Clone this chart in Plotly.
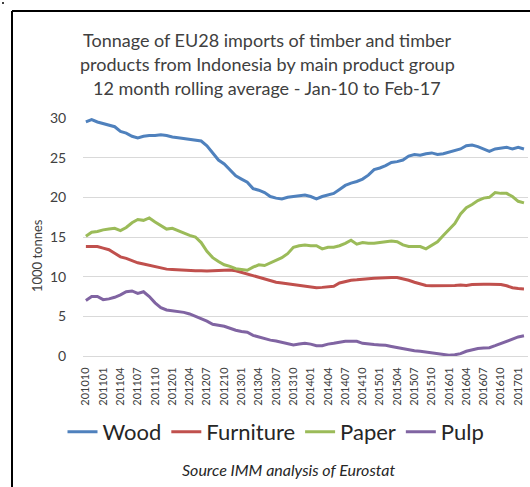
import plotly.graph_objects as go

# monthly categories, Oct 2010 .. Feb 2017
months = (
    ["201010", "201011", "201012"]
    + ["2011%02d" % m for m in range(1, 13)]
    + ["2012%02d" % m for m in range(1, 13)]
    + ["2013%02d" % m for m in range(1, 13)]
    + ["2014%02d" % m for m in range(1, 13)]
    + ["2015%02d" % m for m in range(1, 13)]
    + ["2016%02d" % m for m in range(1, 13)]
    + ["201701", "201702"]
)

tick_labels = [
    "201010", "201101", "201104", "201107", "201110", "201201", "201204",
    "201207", "201210", "201301", "201304", "201307", "201310", "201401",
    "201404", "201407", "201410", "201501", "201504", "201507", "201510",
    "201601", "201604", "201607", "201610", "201701",
]

wood = [
    29.5, 29.8, 29.5, 29.3, 29.1, 28.9, 28.3, 28.1, 27.7, 27.5, 27.7, 27.8,
    27.8, 27.9, 27.8, 27.6, 27.5, 27.4, 27.3, 27.2, 27.1, 26.5, 25.6, 24.7,
    24.2, 23.4, 22.7, 22.3, 21.9, 21.1, 20.9, 20.6, 20.1, 19.9, 19.8, 20.0,
    20.1, 20.2, 20.3, 20.1, 19.8, 20.1, 20.3, 20.5, 21.0, 21.5, 21.8, 22.0,
    22.3, 22.8, 23.5, 23.7, 24.0, 24.4, 24.5, 24.7, 25.2, 25.4, 25.3, 25.5,
    25.6, 25.4, 25.5, 25.7, 25.9, 26.1, 26.5, 26.6, 26.4, 26.1, 25.8, 26.1,
    26.2, 26.3, 26.1, 26.3, 26.1,
]

furniture = [
    13.8, 13.8, 13.8, 13.6, 13.4, 12.95, 12.5, 12.3, 12.0, 11.75, 11.6, 11.45,
    11.3, 11.1, 10.95, 10.9, 10.85, 10.8, 10.75, 10.75, 10.75, 10.7, 10.75, 10.8,
    10.85, 10.85, 10.75, 10.55, 10.3, 10.1, 9.9, 9.7, 9.5, 9.3, 9.2, 9.1,
    9.0, 8.95, 8.85, 8.7, 8.6, 8.65, 8.7, 8.8, 9.2, 9.4, 9.55, 9.6,
    9.7, 9.75, 9.8, 9.85, 9.9, 9.9, 9.9, 9.75, 9.55, 9.3, 9.1, 8.9,
    8.85, 8.85, 8.85, 8.85, 8.9, 8.95, 8.9, 9.0, 9.05, 9.05, 9.05, 9.05,
    9.0, 8.85, 8.6, 8.5, 8.45,
]

paper = [
    15.1, 15.6, 15.7, 15.9, 16.0, 16.1, 15.8, 16.2, 16.8, 17.2, 17.1, 17.4,
    16.9, 16.4, 16.0, 16.1, 15.8, 15.4, 15.2, 15.0, 14.3, 13.2, 12.4, 11.9,
    11.5, 11.3, 11.0, 10.9, 10.8, 11.2, 11.5, 11.4, 11.7, 12.1, 12.4, 12.9,
    13.7, 13.9, 14.0, 13.9, 13.9, 13.5, 13.7, 13.7, 13.9, 14.2, 14.6, 14.1,
    14.3, 14.2, 14.2, 14.3, 14.4, 14.5, 14.4, 14.0, 13.8, 13.8, 13.8, 13.5,
    14.0, 14.4, 15.2, 16.0, 16.7, 17.9, 18.7, 19.1, 19.6, 19.9, 20.0, 20.6,
    20.5, 20.5, 20.1, 19.5, 19.3,
]

pulp = [
    7.0, 7.5, 7.5, 7.1, 7.2, 7.4, 7.7, 8.1, 8.2, 7.9, 8.1, 7.5,
    6.7, 6.1, 5.8, 5.7, 5.6, 5.5, 5.3, 5.0, 4.8, 4.4, 4.0, 3.9,
    3.75, 3.5, 3.25, 3.1, 3.0, 2.6, 2.4, 2.2, 2.0, 1.9, 1.75, 1.6,
    1.4, 1.5, 1.6, 1.5, 1.3, 1.3, 1.5, 1.6, 1.7, 1.85, 1.85, 1.85,
    1.6, 1.5, 1.45, 1.4, 1.35, 1.2, 1.05, 0.9, 0.8, 0.65, 0.6, 0.5,
    0.4, 0.3, 0.2, 0.1, 0.15, 0.3, 0.6, 0.8, 0.95, 1.0, 1.05, 1.3,
    1.6, 1.9, 2.2, 2.4, 2.55,
]

series = [
    ("Wood", wood, "#4F81BD"),
    ("Furniture", furniture, "#C0504D"),
    ("Paper", paper, "#9BBB59"),
    ("Pulp", pulp, "#8064A2"),
]

W, H = 530, 487
ML, MR, MT, MB = 83, 2, 118, 131
PW, PH = W - ML - MR, H - MT - MB


def px(x):
    return (x - ML) / PW


def py(y):
    return (H - MB - y) / PH


FONT = "Lato, 'Open Sans', sans-serif"

fig = go.Figure()
for name, vals, color in series:
    fig.add_trace(
        go.Scatter(
            x=months,
            y=vals,
            mode="lines",
            name=name,
            line=dict(color=color, width=3),
        )
    )

fig.update_layout(
    width=W,
    height=H,
    margin=dict(l=ML, r=MR, t=MT, b=MB),
    paper_bgcolor="white",
    plot_bgcolor="white",
    font=dict(family=FONT, color="#404040"),
    xaxis=dict(
        type="category",
        range=[-0.5, len(months) - 0.3],
        tickmode="array",
        tickvals=tick_labels,
        ticktext=tick_labels,
        tickangle=-90,
        tickfont=dict(size=11, color="#404040", family=FONT),
        showgrid=False,
        showline=False,
        zeroline=False,
        ticks="outside",
        ticklen=6,
        tickcolor="rgba(0,0,0,0)",
    ),
    yaxis=dict(
        range=[0, 30],
        dtick=5,
        tickfont=dict(size=14, color="#404040", family=FONT),
        gridcolor="#D9D9D9",
        gridwidth=1,
        zeroline=True,
        zerolinecolor="#D9D9D9",
        zerolinewidth=1,
        showline=False,
        ticks="outside",
        ticklen=13,
        tickcolor="rgba(0,0,0,0)",
    ),
    legend=dict(
        orientation="h",
        x=px(276),
        xanchor="center",
        y=py(432),
        yanchor="middle",
        font=dict(size=22, color="#262626", family=FONT),
        itemwidth=30,
        bgcolor="rgba(0,0,0,0)",
    ),
    showlegend=True,
)

# chart title, one annotation per line to control spacing
for line, ypos in [
    ("Tonnage of EU28 imports of timber and timber", 40),
    ("products from Indonesia by main product group", 64),
    ("12 month rolling average - Jan-10 to Feb-17", 88),
]:
    fig.add_annotation(
        text=line,
        xref="paper",
        yref="paper",
        x=px(267),
        y=py(ypos),
        xanchor="center",
        yanchor="middle",
        showarrow=False,
        font=dict(size=18, color="#404040", family=FONT),
    )

fig.add_annotation(
    text="1000 tonnes",
    xref="paper",
    yref="paper",
    x=px(37),
    y=py(256),
    xanchor="center",
    yanchor="middle",
    textangle=-90,
    showarrow=False,
    font=dict(size=13, color="#404040", family=FONT),
)

fig.add_annotation(
    text="<i>Source IMM analysis of Eurostat</i>",
    xref="paper",
    yref="paper",
    x=px(288),
    y=py(469),
    xanchor="center",
    yanchor="middle",
    showarrow=False,
    font=dict(size=16, color="#262626", family=FONT),
)

# outer frame (left and top edges visible)
fig.add_shape(
    type="line", xref="paper", yref="paper",
    x0=px(12), x1=px(12), y0=py(11), y1=py(H + 5),
    line=dict(color="black", width=2),
)
fig.add_shape(
    type="line", xref="paper", yref="paper",
    x0=px(12), x1=px(W + 5), y0=py(11), y1=py(11),
    line=dict(color="black", width=2),
)
fig.add_shape(
    type="circle", xref="paper", yref="paper",
    x0=px(2), x1=px(4), y0=py(2), y1=py(4),
    fillcolor="black", line=dict(width=0),
)

fig.write_html(
    "out.html",
    config={"displayModeBar": False},
    post_script="document.body.style.margin='0';document.body.style.overflow='hidden';",
)
